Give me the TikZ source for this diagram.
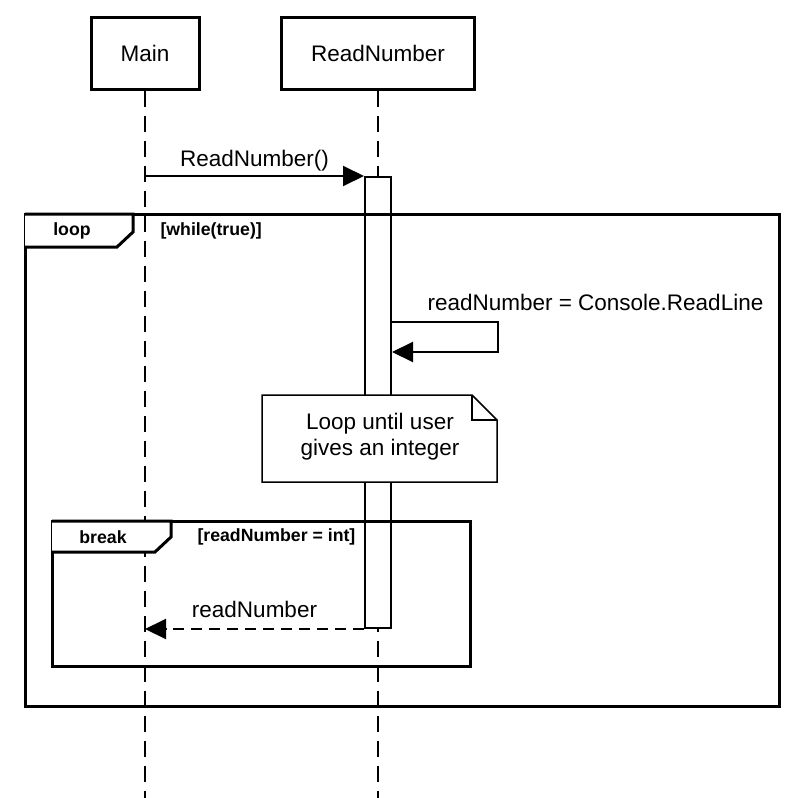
\documentclass[tikz,border=0pt]{standalone}
\usepackage{fontspec}
\setmainfont{Liberation Sans}
\usetikzlibrary{arrows.meta, positioning, calc}
\tikzset{
    actor/.style={draw, line width=3pt, fill=white, minimum height=72pt, font=\fontsize{22.5}{26}\selectfont},
    lifeline/.style={line width=2pt, dash pattern=on 16pt off 9pt},
    actbar/.style={draw, line width=2pt, fill=white, minimum width=26pt, minimum height=451pt, inner sep=0pt},
    msg/.style={line width=2pt, -{Triangle[length=21pt, width=20pt]}},
    reply/.style={msg, dash pattern=on 11pt off 7pt},
    frame/.style={line width=3pt},
    guard/.style={font=\fontsize{17.7}{21}\selectfont\bfseries},
    label/.style={font=\fontsize{22.5}{26}\selectfont},
}

\begin{document}
\begin{tikzpicture}[x=1pt, y=-1pt]
    \useasboundingbox (0,0) rectangle (804,798);

    % lifelines
    \node[actor, minimum width=108pt] (main) at (145,53) {Main};
    \node[actor, minimum width=193pt] (rn) at (378,53) {ReadNumber};
    \coordinate (mainEnd) at (145,798);
    \coordinate (rnEnd) at (378,798);
    \draw[lifeline] (main) -- (mainEnd);
    \draw[lifeline] (rn) -- (rnEnd);

    % activation
    \node[actbar, anchor=north] (act) at (378,176) {};
    \draw[msg] (main |- act.north) -- (act.north west)
        node[midway, above=1pt, label] (callLbl) {ReadNumber()};

    % loop frame
    \draw[frame] (25,214) rectangle (779,706);
    \draw[frame, fill=white] (25,214) -- (133,214) -- (133,232) -- (117,247) -- (25,247);
    \node[guard] (loopTag) at (72,231) {loop};
    \node[guard, anchor=west] (loopCond) at (157,231) {[while(true)]};

    % self call
    \coordinate (selfOut) at ($(act.north east)+(0,146)$);
    \coordinate (selfIn) at ($(act.north east)+(0,176)$);
    \draw[msg] (selfOut) -- ++(106,0) -- ++(0,30) -- (selfIn);
    \node[label, anchor=west] (selfLbl) at (424,302) {readNumber = Console.ReadLine};

    % note
    \draw[line width=1.5pt, fill=white] (262,395) -- (472,395) -- (497,420) -- (497,482) -- (262,482) -- cycle;
    \draw[line width=1.5pt] (472,395) -- (472,420) -- (497,420);
    \node[label, align=center] (note) at (380,437) {Loop until user\\gives an integer};

    % break frame
    \draw[frame] (52,521) rectangle (470,666);
    \draw[frame, fill=white] (52,521) -- (171,521) -- (171,537) -- (155,552) -- (52,552);
    \node[guard] (breakTag) at (103,537) {break};
    \node[guard, anchor=west] (breakCond) at (194,537) {[readNumber = int]};

    % return
    \draw[reply] (act.south west) -- (main |- act.south)
        node[midway, above=7pt, label] (retLbl) {readNumber};
\end{tikzpicture}
\end{document}
